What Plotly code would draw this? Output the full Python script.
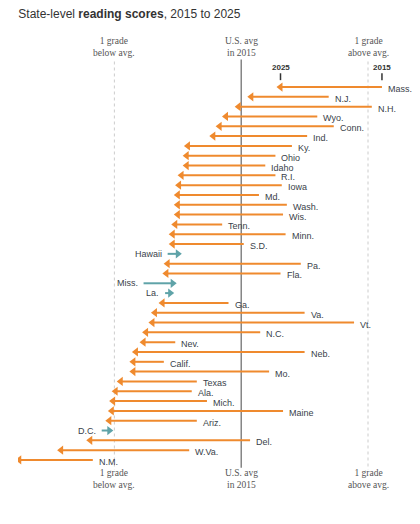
import plotly.graph_objects as go

# reading score difference from 2015 U.S. average (points; 10 pts ~ 1 grade)
states = ["Mass.", "N.J.", "N.H.", "Wyo.", "Conn.", "Ind.", "Ky.", "Ohio", "Idaho", "R.I.",
          "Iowa", "Md.", "Wash.", "Wis.", "Tenn.", "Minn.", "S.D.", "Hawaii", "Pa.", "Fla.",
          "Miss.", "La.", "Ga.", "Va.", "Vt.", "N.C.", "Nev.", "Neb.", "Calif.", "Mo.",
          "Texas", "Ala.", "Mich.", "Maine", "Ariz.", "D.C.", "Del.", "W.Va.", "N.M."]
score_2015 = [11.1, 6.9, 10.3, 6.0, 7.3, 5.2, 4.0, 2.7, 1.9, 2.7,
              3.2, 1.4, 3.6, 3.3, -1.5, 3.5, 0.2, -5.8, 4.7, 3.1,
              -7.7, -6.0, -1.0, 5.0, 8.9, 1.5, -5.2, 5.0, -6.1, 2.2,
              -3.5, -3.9, -2.7, 3.3, -3.5, -11.0, 0.7, -4.1, -11.7]
score_2025 = [3.1, 0.8, -0.2, -1.2, -1.7, -2.2, -4.2, -4.3, -4.3, -4.7,
              -4.9, -5.0, -5.0, -5.0, -5.2, -5.4, -5.4, -5.0, -5.8, -5.9,
              -5.4, -5.6, -6.2, -6.8, -7.0, -7.5, -7.7, -8.3, -8.5, -8.5,
              -9.5, -9.9, -10.1, -10.2, -10.4, -10.4, -11.9, -14.2, -17.5]

ORANGE = "#ef8a2e"
TEAL = "#5fa3a8"

fig = go.Figure()

# reference lines
fig.add_trace(go.Scatter(x=[0, 0], y=[-2.8, 38.8], mode="lines",
                         line=dict(color="#666666", width=1.2), hoverinfo="skip"))
for gx in [-10, 10]:
    fig.add_trace(go.Scatter(x=[gx, gx], y=[-2.6, 39], mode="lines",
                             line=dict(color="#cccccc", width=1, dash="dot"), hoverinfo="skip"))

annotations = []
for i, (s, a, b) in enumerate(zip(states, score_2015, score_2025)):
    col = ORANGE if b < a else TEAL
    fig.add_trace(go.Scatter(x=[a, b], y=[i, i], mode="lines",
                             line=dict(color=col, width=2), hoverinfo="skip"))
    fig.add_trace(go.Scatter(x=[b], y=[i], mode="markers",
                             marker=dict(symbol="triangle-left" if b < a else "triangle-right",
                                         size=8, color=col), hoverinfo="skip"))
    if b < a:
        annotations.append(dict(x=a, y=i, text=s, xanchor="left", xshift=4, yshift=-2,
                                showarrow=False, font=dict(size=9, color="#3a3f4a")))
    else:
        annotations.append(dict(x=a, y=i, text=s, xanchor="right", xshift=-4,
                                showarrow=False, font=dict(size=9, color="#3a3f4a")))

# header/footer labels
axis_text = [(-10, "1 grade<br>below avg."), (0, "U.S. avg<br>in 2015"), (10, "1 grade<br>above avg.")]
for x, t in axis_text:
    for yy in [-4.1, 39.9]:
        annotations.append(dict(x=x, y=yy, text=t, showarrow=False,
                                font=dict(size=9.5, color="#555555", family="Liberation Serif")))

# year key above Mass.
for x, t in [(score_2025[0], "2025"), (score_2015[0], "2015")]:
    annotations.append(dict(x=x, y=-2.0, text="<b>" + t + "</b>", showarrow=False,
                            font=dict(size=8, color="#333333")))
    fig.add_trace(go.Scatter(x=[x, x], y=[-1.4, -0.7], mode="lines",
                             line=dict(color="#333333", width=1.5), hoverinfo="skip"))

fig.update_layout(
    width=412, height=516,
    margin=dict(l=10, r=0, t=32, b=14),
    paper_bgcolor="white", plot_bgcolor="white",
    showlegend=False,
    font=dict(family="Liberation Sans"),
    title=dict(text="State-level <b>reading scores</b>, 2015 to 2025",
               x=0.025, xanchor="left", y=0.988, yanchor="middle",
               font=dict(size=12, color="#333333")),
    xaxis=dict(range=[-17.6, 14.1], visible=False),
    yaxis=dict(range=[43.1, -4.79], visible=False),
    annotations=annotations,
)

fig.write_html("out.html")
